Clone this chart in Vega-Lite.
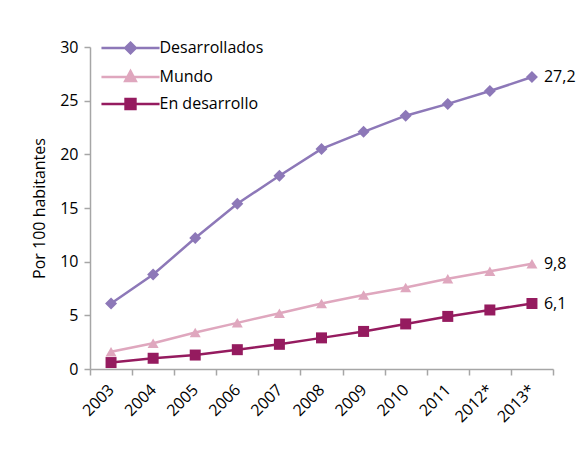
{
  "$schema": "https://vega.github.io/schema/vega-lite/v6.json",
  "autosize": "none",
  "width": 463,
  "height": 322,
  "padding": {"left": 90, "top": 47, "right": 31, "bottom": 83},
  "background": "#ffffff",
  "config": {
    "font": "Open Sans",
    "view": {"stroke": null},
    "locale": {"number": {"decimal": ",", "thousands": ".", "grouping": [3], "currency": ["", " €"]}},
    "axis": {"labelFont": "Open Sans", "titleFont": "Open Sans", "labelColor": "#000000", "titleColor": "#000000", "domainColor": "#A6A6A6", "tickColor": "#A6A6A6", "domainWidth": 1.5, "tickWidth": 1.5, "grid": false},
    "legend": {"labelFont": "Open Sans"}
  },
  "data": {"values": [
    {"year": "2003", "serie": "Desarrollados", "value": 6.1},
    {"year": "2004", "serie": "Desarrollados", "value": 8.8},
    {"year": "2005", "serie": "Desarrollados", "value": 12.2},
    {"year": "2006", "serie": "Desarrollados", "value": 15.4},
    {"year": "2007", "serie": "Desarrollados", "value": 18.0},
    {"year": "2008", "serie": "Desarrollados", "value": 20.5},
    {"year": "2009", "serie": "Desarrollados", "value": 22.1},
    {"year": "2010", "serie": "Desarrollados", "value": 23.6},
    {"year": "2011", "serie": "Desarrollados", "value": 24.7},
    {"year": "2012*", "serie": "Desarrollados", "value": 25.9},
    {"year": "2013*", "serie": "Desarrollados", "value": 27.2},
    {"year": "2003", "serie": "Mundo", "value": 1.6},
    {"year": "2004", "serie": "Mundo", "value": 2.4},
    {"year": "2005", "serie": "Mundo", "value": 3.4},
    {"year": "2006", "serie": "Mundo", "value": 4.3},
    {"year": "2007", "serie": "Mundo", "value": 5.2},
    {"year": "2008", "serie": "Mundo", "value": 6.1},
    {"year": "2009", "serie": "Mundo", "value": 6.9},
    {"year": "2010", "serie": "Mundo", "value": 7.6},
    {"year": "2011", "serie": "Mundo", "value": 8.4},
    {"year": "2012*", "serie": "Mundo", "value": 9.1},
    {"year": "2013*", "serie": "Mundo", "value": 9.8},
    {"year": "2003", "serie": "En desarrollo", "value": 0.6},
    {"year": "2004", "serie": "En desarrollo", "value": 1.0},
    {"year": "2005", "serie": "En desarrollo", "value": 1.3},
    {"year": "2006", "serie": "En desarrollo", "value": 1.8},
    {"year": "2007", "serie": "En desarrollo", "value": 2.3},
    {"year": "2008", "serie": "En desarrollo", "value": 2.9},
    {"year": "2009", "serie": "En desarrollo", "value": 3.5},
    {"year": "2010", "serie": "En desarrollo", "value": 4.2},
    {"year": "2011", "serie": "En desarrollo", "value": 4.9},
    {"year": "2012*", "serie": "En desarrollo", "value": 5.5},
    {"year": "2013*", "serie": "En desarrollo", "value": 6.1}
  ]},
  "encoding": {
    "x": {"field": "year", "type": "ordinal", "scale": {"type": "band", "paddingInner": 0, "paddingOuter": 0},
      "axis": {"title": null, "labelAngle": -45, "labelAlign": "right", "labelBaseline": "middle", "labelFontSize": 16, "labelPadding": 12, "tickBand": "extent", "tickSize": 6, "labelOverlap": false}},
    "y": {"field": "value", "type": "quantitative", "scale": {"domain": [0, 30], "nice": false},
      "axis": {"title": "Por 100 habitantes", "titleFontSize": 16, "titleFontWeight": "normal", "titlePadding": 12, "values": [0, 5, 10, 15, 20, 25, 30], "labelFontSize": 16, "tickSize": 6, "labelPadding": 6}}
  },
  "layer": [
    {
      "mark": {"type": "line", "strokeWidth": 2.5},
      "encoding": {
        "color": {"field": "serie", "type": "nominal",
          "scale": {"domain": ["Desarrollados", "Mundo", "En desarrollo"], "range": ["#8D78B8", "#DFA7BE", "#951B5F"]},
          "legend": {"title": null, "orient": "none", "legendX": 22.5, "legendY": -17, "padding": 0, "symbolSize": 1089, "labelFontSize": 16, "labelColor": "#000000", "labelOffset": 11, "rowPadding": 0,
            "encode": {"symbols": {"update": {
              "shape": {"signal": "datum.value === 'Desarrollados' ? 'M-1.76,0H1.76M0,-0.32L0.32,0L0,0.32L-0.32,0Z' : datum.value === 'Mundo' ? 'M-1.76,0H1.76M0,-0.36L0.32,0.24L-0.32,0.24Z' : 'M-1.76,0H1.76M-0.3,-0.3H0.3V0.3H-0.3Z'"},
              "fill": {"signal": "scale('color', datum.value)"},
              "stroke": {"signal": "scale('color', datum.value)"},
              "strokeWidth": {"value": 2.5},
              "opacity": {"value": 1}
            }}}}
        }
      }
    },
    {
      "transform": [{"filter": "datum.serie === 'Desarrollados'"}],
      "mark": {"type": "point", "filled": true, "opacity": 1, "size": 144, "shape": "diamond"},
      "encoding": {"color": {"field": "serie", "type": "nominal", "legend": null}}
    },
    {
      "transform": [{"filter": "datum.serie === 'Mundo'"}],
      "mark": {"type": "point", "filled": true, "opacity": 1, "size": 121, "shape": "triangle-up"},
      "encoding": {"color": {"field": "serie", "type": "nominal", "legend": null}}
    },
    {
      "transform": [{"filter": "datum.serie === 'En desarrollo'"}],
      "mark": {"type": "point", "filled": true, "opacity": 1, "size": 121, "shape": "square"},
      "encoding": {"color": {"field": "serie", "type": "nominal", "legend": null}}
    },
    {
      "transform": [{"filter": "datum.year === '2013*'"}],
      "mark": {"type": "text", "align": "left", "dx": 12, "fontSize": 16, "font": "Open Sans"},
      "encoding": {
        "text": {"field": "value", "type": "quantitative", "format": ".1f"},
        "color": {"value": "#000000"}
      }
    }
  ]
}
